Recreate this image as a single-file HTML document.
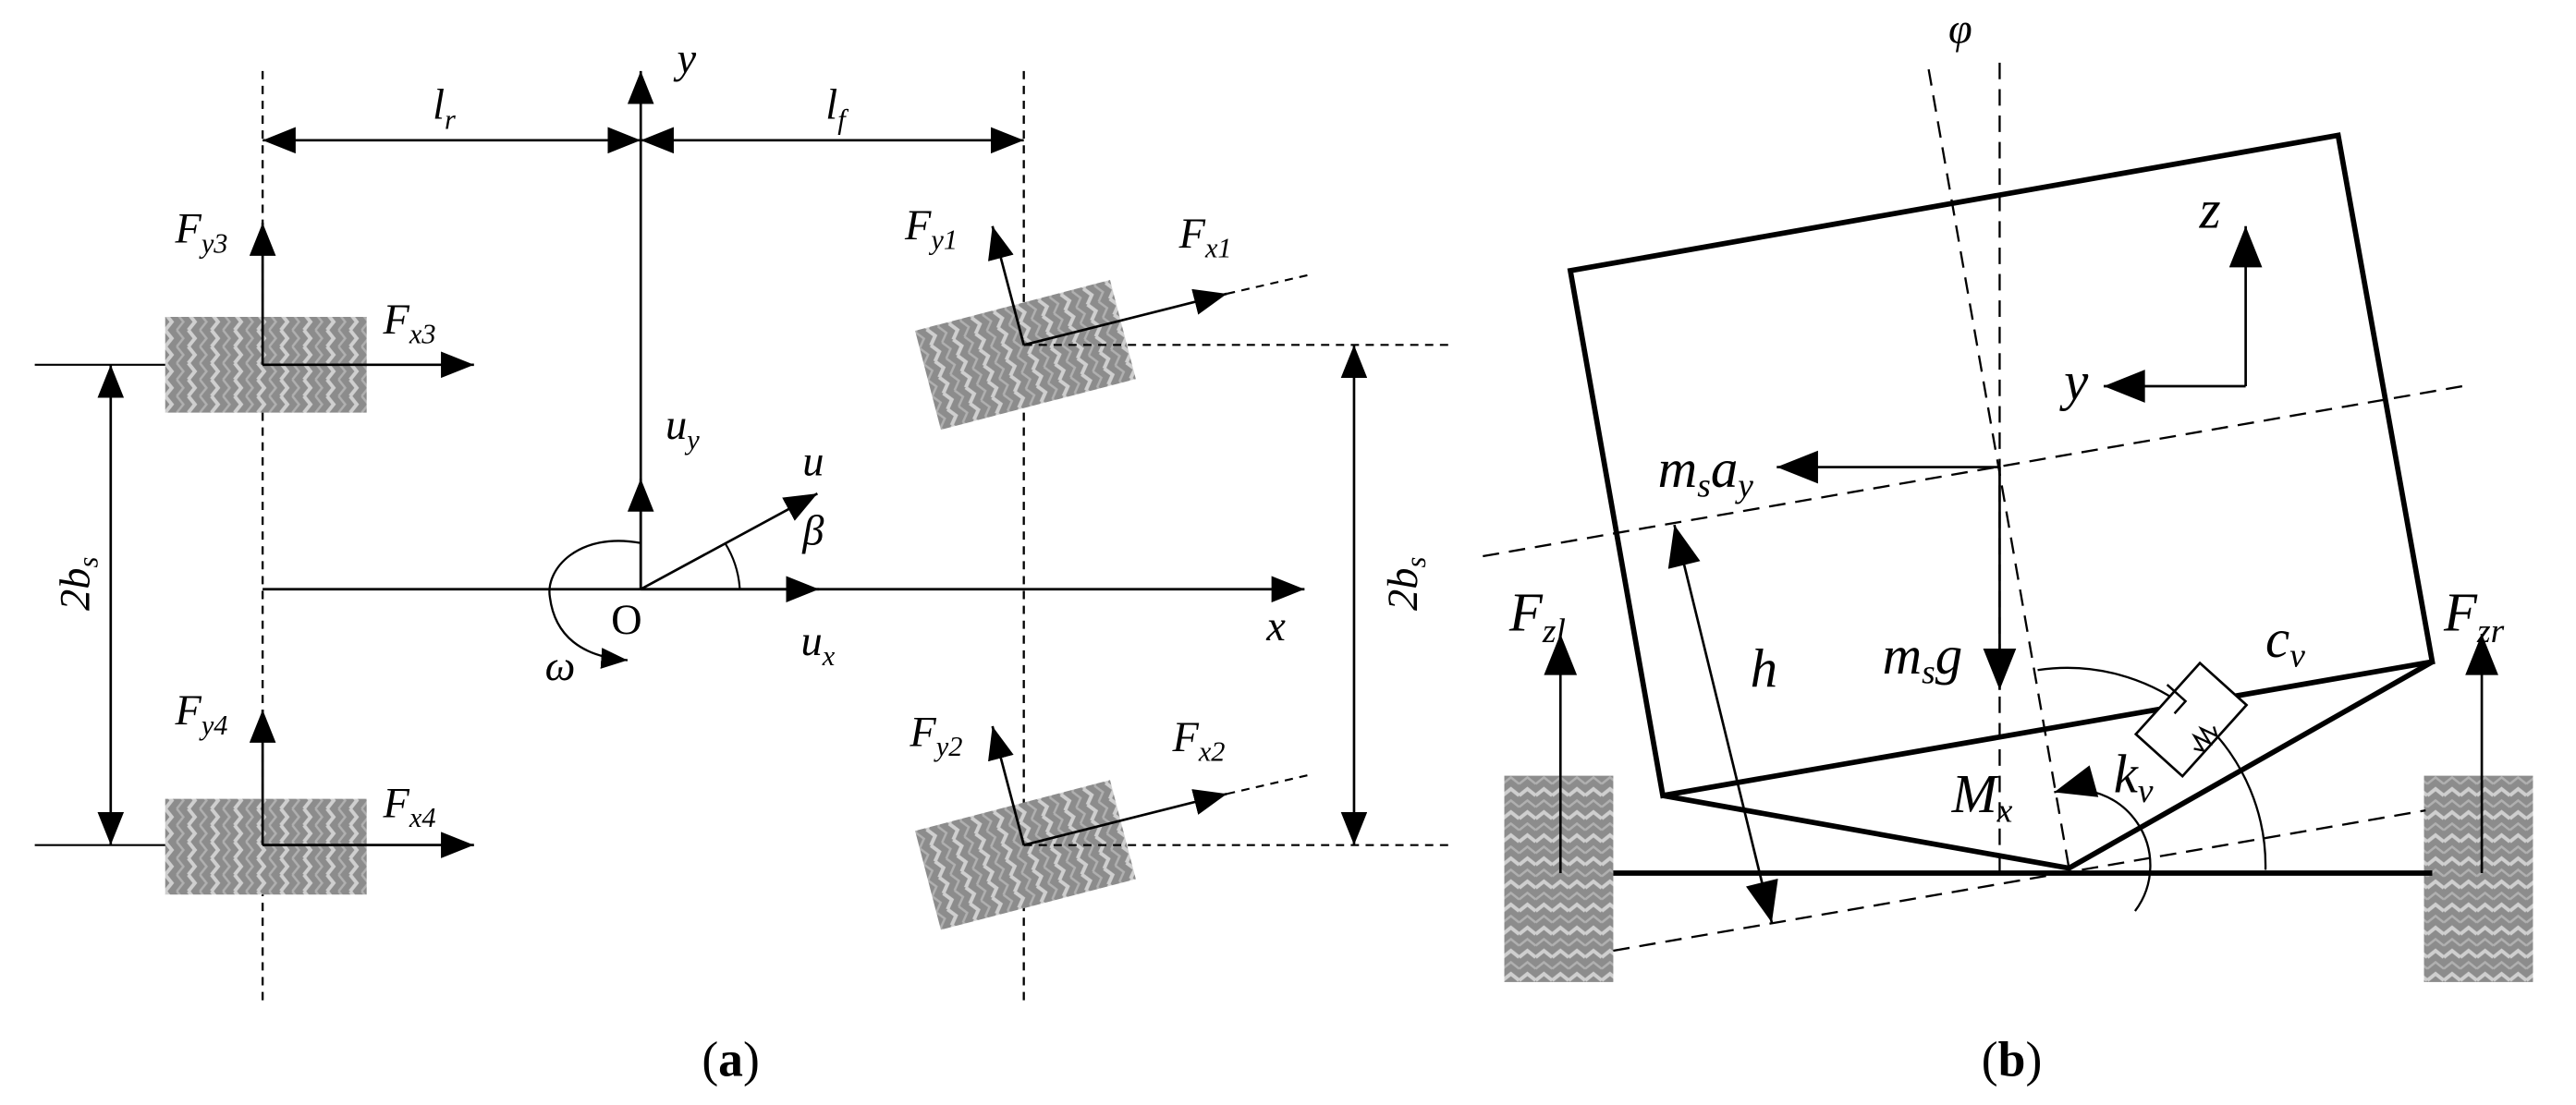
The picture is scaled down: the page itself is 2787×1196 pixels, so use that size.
<!DOCTYPE html>
<html><head><meta charset="utf-8"><style>
html,body{margin:0;padding:0;background:#fff}
svg{display:block}
text{font-family:"Liberation Serif",serif;font-style:italic;fill:#000}
.sub{font-size:17px}
.subb{font-size:21px}
</style></head><body>
<svg width="2787" height="1196" viewBox="0 0 1560 669.5" xmlns="http://www.w3.org/2000/svg">
<defs>
<marker id="ar" viewBox="0 0 20 16" refX="20" refY="8" markerWidth="20" markerHeight="16" markerUnits="userSpaceOnUse" orient="auto-start-reverse"><path d="M0,0 L20,8 L0,16 Z" fill="#000"/></marker>
<marker id="arb" viewBox="0 0 20 16" refX="20" refY="8" markerWidth="26" markerHeight="20" markerUnits="userSpaceOnUse" orient="auto-start-reverse"><path d="M0,0 L20,8 L0,16 Z" fill="#000"/></marker>
<marker id="ars" viewBox="0 0 20 16" refX="20" refY="8" markerWidth="16" markerHeight="13" markerUnits="userSpaceOnUse" orient="auto-start-reverse"><path d="M0,0 L20,8 L0,16 Z" fill="#000"/></marker>
<pattern id="tireH" width="14" height="10" patternUnits="userSpaceOnUse">
<rect width="14" height="10" fill="#8c8c8c"/>
<polyline points="2,0 6,5 2,10" fill="none" stroke="#cfcfcf" stroke-width="2.2"/>
<polyline points="9,0 13,5 9,10" fill="none" stroke="#b0b0b0" stroke-width="1.4"/>
</pattern>
<pattern id="tireV" width="10" height="14" patternUnits="userSpaceOnUse">
<rect width="10" height="14" fill="#8c8c8c"/>
<polyline points="0,6 5,2 10,6" fill="none" stroke="#cfcfcf" stroke-width="2.2"/>
<polyline points="0,13 5,9 10,13" fill="none" stroke="#b0b0b0" stroke-width="1.4"/>
</pattern>
</defs>

<g stroke="#000" fill="none" stroke-width="1.3">
<line x1="159" y1="43" x2="159" y2="606" stroke-dasharray="5,4"/>
<line x1="620" y1="43" x2="620" y2="606" stroke-dasharray="5,4"/>
</g>
<rect x="100" y="192" width="122" height="58" fill="url(#tireH)"/>
<rect x="100" y="484" width="122" height="58" fill="url(#tireH)"/>
<g transform="translate(621,215) rotate(-14.6)"><rect x="-61" y="-31" width="122" height="62" fill="url(#tireH)"/></g>
<g transform="translate(621,518) rotate(-14.6)"><rect x="-61" y="-31" width="122" height="62" fill="url(#tireH)"/></g>

<g stroke="#000" fill="none" stroke-width="1.5">
<line x1="388" y1="357" x2="388" y2="43" marker-end="url(#ar)"/>
<line x1="159" y1="357" x2="790" y2="357" marker-end="url(#ar)"/>
<line x1="159" y1="85" x2="388" y2="85" marker-start="url(#ar)" marker-end="url(#ar)"/>
<line x1="388" y1="85" x2="620" y2="85" marker-start="url(#ar)" marker-end="url(#ar)"/>
<line x1="67" y1="221" x2="67" y2="512" marker-start="url(#ar)" marker-end="url(#ar)"/>
<line x1="820" y1="209" x2="820" y2="512" marker-start="url(#ar)" marker-end="url(#ar)"/>
<line x1="21" y1="221" x2="100" y2="221" stroke-width="1.2"/>
<line x1="21" y1="512" x2="100" y2="512" stroke-width="1.2"/>
<line x1="159" y1="221" x2="159" y2="135" marker-end="url(#ar)"/>
<line x1="159" y1="221" x2="287" y2="221" marker-end="url(#ar)"/>
<line x1="159" y1="512" x2="159" y2="430" marker-end="url(#ar)"/>
<line x1="159" y1="512" x2="287" y2="512" marker-end="url(#ar)"/>
<line x1="620" y1="209" x2="601" y2="137" marker-end="url(#ar)"/>
<line x1="620" y1="209" x2="743" y2="178" marker-end="url(#ar)"/>
<line x1="743" y1="178" x2="795" y2="166" stroke-dasharray="5,4" stroke-width="1.2"/>
<line x1="620" y1="209" x2="878" y2="209" stroke-dasharray="5,4" stroke-width="1.2"/>
<line x1="620" y1="512" x2="601" y2="440" marker-end="url(#ar)"/>
<line x1="620" y1="512" x2="743" y2="481" marker-end="url(#ar)"/>
<line x1="743" y1="481" x2="795" y2="469" stroke-dasharray="5,4" stroke-width="1.2"/>
<line x1="620" y1="512" x2="878" y2="512" stroke-dasharray="5,4" stroke-width="1.2"/>
<line x1="388" y1="357" x2="388" y2="290" marker-end="url(#ar)"/>
<line x1="388" y1="357" x2="495" y2="299" marker-end="url(#ar)"/>
<line x1="388" y1="357" x2="496" y2="357" marker-end="url(#ar)"/>
<path d="M439,329 A60,60 0 0 1 448,357" stroke-width="1.2"/>
<path d="M388,329 C350,322 330,345 333,362 C336,385 352,398 380,400" stroke-width="1.3" marker-end="url(#ars)"/>
</g>
<g font-size="26">
<text x="410" y="44">y</text>
<text x="262" y="72">l<tspan class="sub" dy="6">r</tspan></text>
<text x="500" y="72">l<tspan class="sub" dy="6">f</tspan></text>
<text x="106" y="147">F<tspan class="sub" dy="6">y3</tspan></text>
<text x="232" y="202">F<tspan class="sub" dy="6">x3</tspan></text>
<text x="106" y="439">F<tspan class="sub" dy="6">y4</tspan></text>
<text x="232" y="495">F<tspan class="sub" dy="6">x4</tspan></text>
<text x="548" y="145">F<tspan class="sub" dy="6">y1</tspan></text>
<text x="714" y="150">F<tspan class="sub" dy="6">x1</tspan></text>
<text x="551" y="452">F<tspan class="sub" dy="6">y2</tspan></text>
<text x="710" y="455">F<tspan class="sub" dy="6">x2</tspan></text>
<text x="403" y="266">u<tspan class="sub" dy="6">y</tspan></text>
<text x="486" y="288">u</text>
<text x="486" y="330">β</text>
<text x="485" y="397">u<tspan class="sub" dy="6">x</tspan></text>
<text x="767" y="388">x</text>
<text x="330" y="412">ω</text>
<text x="370" y="384" style="font-style:normal">O</text>
<text transform="translate(54,370) rotate(-90)">2b<tspan class="sub" dy="5">s</tspan></text>
<text transform="translate(858,370) rotate(-90)">2b<tspan class="sub" dy="5">s</tspan></text>
</g>
<text x="425" y="652" font-size="30" style="font-style:normal">(<tspan font-weight="bold">a</tspan>)</text>

<rect x="911" y="470" width="66" height="125" fill="url(#tireV)"/>
<rect x="1468" y="470" width="66" height="125" fill="url(#tireV)"/>
<g stroke="#000" fill="none">
<line x1="1211" y1="38" x2="1211" y2="528" stroke-dasharray="10,6" stroke-width="1.3"/>
<line x1="1168" y1="42" x2="1253" y2="526" stroke-dasharray="10,6" stroke-width="1.3"/>
<line x1="898" y1="337" x2="1497" y2="233" stroke-dasharray="10,6" stroke-width="1.3"/>
<line x1="977" y1="576" x2="1469" y2="491" stroke-dasharray="10,6" stroke-width="1.3"/>
<polygon points="951,164 1416,82 1473,401 1007,482" stroke-width="3.2"/>
<polyline points="1007,482 1253,526 1473,401" stroke-width="3.2"/>
<line x1="977" y1="529" x2="1473" y2="529" stroke-width="3.2"/>
<line x1="945" y1="529" x2="945" y2="384" stroke-width="1.5" marker-end="url(#arb)"/>
<line x1="1503" y1="529" x2="1503" y2="384" stroke-width="1.5" marker-end="url(#arb)"/>
<line x1="1211" y1="283" x2="1076" y2="283" stroke-width="1.5" marker-end="url(#arb)"/>
<line x1="1211" y1="283" x2="1211" y2="418" stroke-width="1.5" marker-end="url(#arb)"/>
<line x1="1014" y1="318" x2="1073" y2="559" stroke-width="1.5" marker-start="url(#arb)" marker-end="url(#arb)"/>
<line x1="1360" y1="234" x2="1360" y2="137" stroke-width="1.5" marker-end="url(#arb)"/>
<line x1="1360" y1="234" x2="1274" y2="234" stroke-width="1.5" marker-end="url(#arb)"/>
<path d="M1234,406 A120,120 0 0 1 1372,527" stroke-width="1.3"/>
<path d="M1293,552 A46,46 0 0 0 1244,480" stroke-width="1.3" marker-end="url(#arb)"/>
<g transform="translate(1327,436) rotate(-48)">
<rect x="-29" y="-19" width="58" height="38" fill="#fff" stroke-width="1.5"/>
<path d="M6,-19 v-6 M-4,-10 h10 v-9" stroke-width="1.4"/>
<path d="M-10,19 l3,5 l3,-10 l3,10 l3,-10 l3,10 l3,-5" stroke-width="1.3" transform="translate(-2,-6)"/>
</g>
</g>
<g font-size="33">
<text x="1180" y="26" font-size="26">φ</text>
<text x="1332" y="138">z</text>
<text x="1250" y="242">y</text>
<text x="1004" y="295">m<tspan class="subb" dy="6">s</tspan><tspan dy="-6">a</tspan><tspan class="subb" dy="6">y</tspan></text>
<text x="1140" y="408">m<tspan class="subb" dy="6">s</tspan><tspan dy="-6">g</tspan></text>
<text x="1060" y="416">h</text>
<text x="1372" y="398">c<tspan class="subb" dy="6">v</tspan></text>
<text x="1280" y="480">k<tspan class="subb" dy="6">v</tspan></text>
<text x="1182" y="492">M<tspan class="subb" dy="6">x</tspan></text>
<text x="914" y="382">F<tspan class="subb" dy="7">zl</tspan></text>
<text x="1480" y="382">F<tspan class="subb" dy="7">zr</tspan></text>
</g>
<text x="1200" y="652" font-size="30" style="font-style:normal">(<tspan font-weight="bold">b</tspan>)</text>
</svg>
</body></html>
